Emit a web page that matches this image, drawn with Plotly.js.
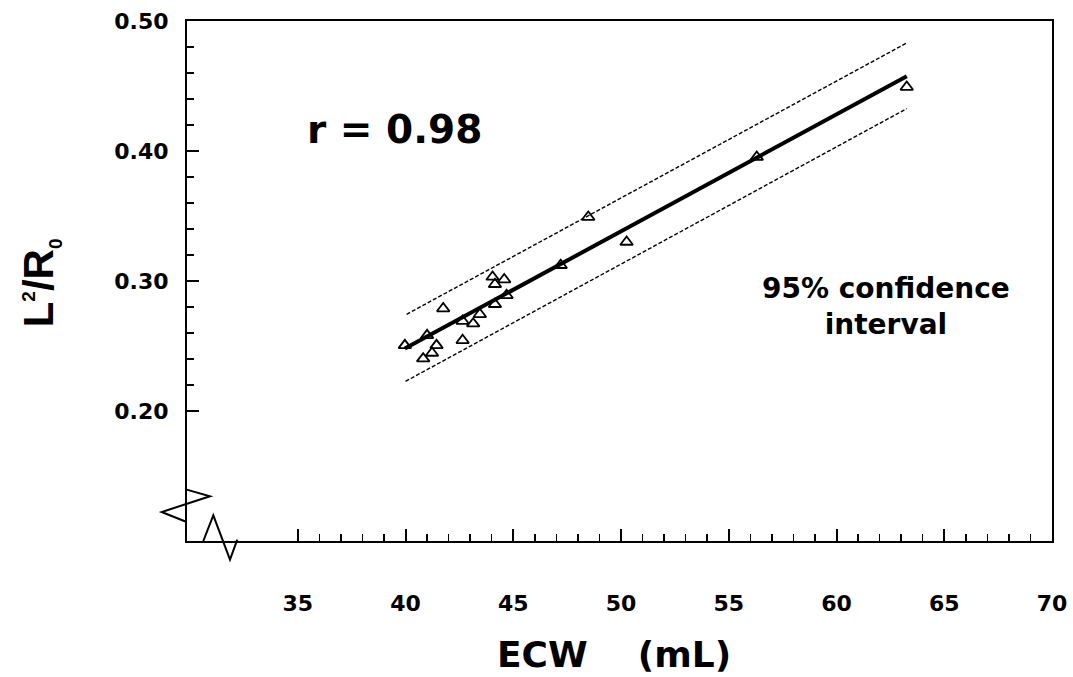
<!DOCTYPE html>
<html>
<head>
<meta charset="utf-8">
<script src="https://cdn.plot.ly/plotly-3.0.1.min.js"></script>
<style>
  html, body { margin: 0; padding: 0; background: #ffffff; }
  #chart { width: 1073px; height: 677px; }
</style>
</head>
<body>
<div id="chart"></div>
<script>
// ---- data ----
const ecw = [39.97, 41.00, 41.44, 41.23, 40.82, 41.75, 42.65, 42.65, 43.14, 43.45,
             44.15, 44.69, 44.04, 44.58, 44.15, 47.20, 50.26, 48.48, 56.30, 63.26];
const l2r0 = [0.2505, 0.2582, 0.2505, 0.2446, 0.2403, 0.2788, 0.2544, 0.2692, 0.2672, 0.2744,
              0.2821, 0.2890, 0.3031, 0.3011, 0.2975, 0.3121, 0.3300, 0.3492, 0.3954, 0.4492];

const fitX = [39.97, 63.26];
const fitY = [0.2480, 0.4575];
const upperX = [40.05, 63.26];
const upperY = [0.2744, 0.4831];
const lowerX = [40.00, 63.26];
const lowerY = [0.2228, 0.4326];

const xTickVals = [35, 40, 45, 50, 55, 60, 65, 70];
const xTickText = ['35', '40', '45', '50', '55', '60', '65', '70'];
const yTickVals = [0.2, 0.3, 0.4, 0.5];
const yTickText = ['0.20', '0.30', '0.40', '0.50'];

const xMinor = [];
for (let v = 36; v < 70; v++) if (v % 5 !== 0) xMinor.push(v);
const yMinor = [];
for (let k = 11; k < 25; k++) if (k % 5 !== 0) yMinor.push(k * 0.02);

const tickFont = { family: 'DejaVu Sans', size: 22, weight: 'bold', color: '#000' };

const traces = [
  { x: upperX, y: upperY, mode: 'lines', line: { color: '#000', width: 1.4, dash: '4px,2px' }, hoverinfo: 'skip' },
  { x: lowerX, y: lowerY, mode: 'lines', line: { color: '#000', width: 1.4, dash: '4px,2px' }, hoverinfo: 'skip' },
  { x: fitX, y: fitY, mode: 'lines', line: { color: '#000', width: 4 }, hoverinfo: 'skip' },
  { x: ecw, y: l2r0, mode: 'markers',
    marker: { symbol: 'triangle-up-open', size: 11, color: '#000', line: { width: 1.8, color: '#000' } } }
];

const P = (px) => (px - 187) / 865;
const Q = (py) => (540.7 - py) / 520;

const layout = {
  width: 1073, height: 677,
  margin: { l: 187, r: 21, t: 21, b: 136 },
  paper_bgcolor: '#fff', plot_bgcolor: '#fff',
  showlegend: false,
  xaxis: {
    range: [29.86, 70], showgrid: false, zeroline: false,
    showline: true, linecolor: '#000', linewidth: 2, mirror: true,
    tickmode: 'array', tickvals: xTickVals, ticktext: xTickText,
    ticks: 'inside', ticklen: 12, tickwidth: 2, tickcolor: '#000',
    ticklabelstandoff: 42,
    minor: { tickmode: 'array', tickvals: xMinor, ticks: 'inside', ticklen: 7, tickwidth: 1.5, tickcolor: '#000' },
    tickfont: tickFont
  },
  yaxis: {
    range: [0.1, 0.5], showgrid: false, zeroline: false,
    showline: true, linecolor: '#000', linewidth: 2, mirror: true,
    tickmode: 'array', tickvals: yTickVals, ticktext: yTickText,
    ticks: 'inside', ticklen: 12, tickwidth: 2, tickcolor: '#000',
    ticklabelstandoff: 12,
    minor: { tickmode: 'array', tickvals: yMinor, ticks: 'inside', ticklen: 7, tickwidth: 1.5, tickcolor: '#000' },
    tickfont: tickFont
  },
  shapes: [
    { type: 'path', xref: 'paper', yref: 'paper',
      path: 'M' + P(186.7) + ',' + Q(489.3) + ' L' + P(210) + ',' + Q(496) + ' L' + P(161.7) + ',' + Q(511.7) + ' L' + P(186.7) + ',' + Q(521.7),
      line: { color: '#000', width: 2 } },
    { type: 'path', xref: 'paper', yref: 'paper',
      path: 'M' + P(203.3) + ',' + Q(540.7) + ' L' + P(213.3) + ',' + Q(515) + ' L' + P(230) + ',' + Q(559.3) + ' L' + P(237.3) + ',' + Q(539.3),
      line: { color: '#000', width: 2 } }
  ],
  annotations: [
    { text: 'r = 0.98', xref: 'paper', yref: 'paper', x: P(394), y: Q(129), xanchor: 'center', yanchor: 'middle',
      showarrow: false, font: { family: 'DejaVu Sans', size: 39, weight: 'bold', color: '#000' } },
    { text: '95% confidence<br>interval', xref: 'paper', yref: 'paper', x: P(886), y: Q(306), xanchor: 'center', yanchor: 'middle',
      align: 'center', showarrow: false, font: { family: 'DejaVu Sans', size: 28, weight: 'bold', color: '#000' } },
    { text: 'ECW&nbsp;&nbsp;&nbsp;&nbsp;(mL)', xref: 'paper', yref: 'paper', x: P(614), y: Q(654), xanchor: 'center', yanchor: 'middle',
      showarrow: false, font: { family: 'DejaVu Sans', size: 36, weight: 'bold', color: '#000' } },
    { text: 'L<sup><span style="font-size:19px">2</span></sup>/R<sub><span style="font-size:19px">0</span></sub>',
      xref: 'paper', yref: 'paper', x: P(40), y: Q(283), xanchor: 'center', yanchor: 'middle',
      textangle: -90, showarrow: false, font: { family: 'Liberation Sans', size: 42, weight: 'bold', color: '#000' } }
  ]
};

Plotly.newPlot('chart', traces, layout, { staticPlot: true, displayModeBar: false });
</script>
</body>
</html>
